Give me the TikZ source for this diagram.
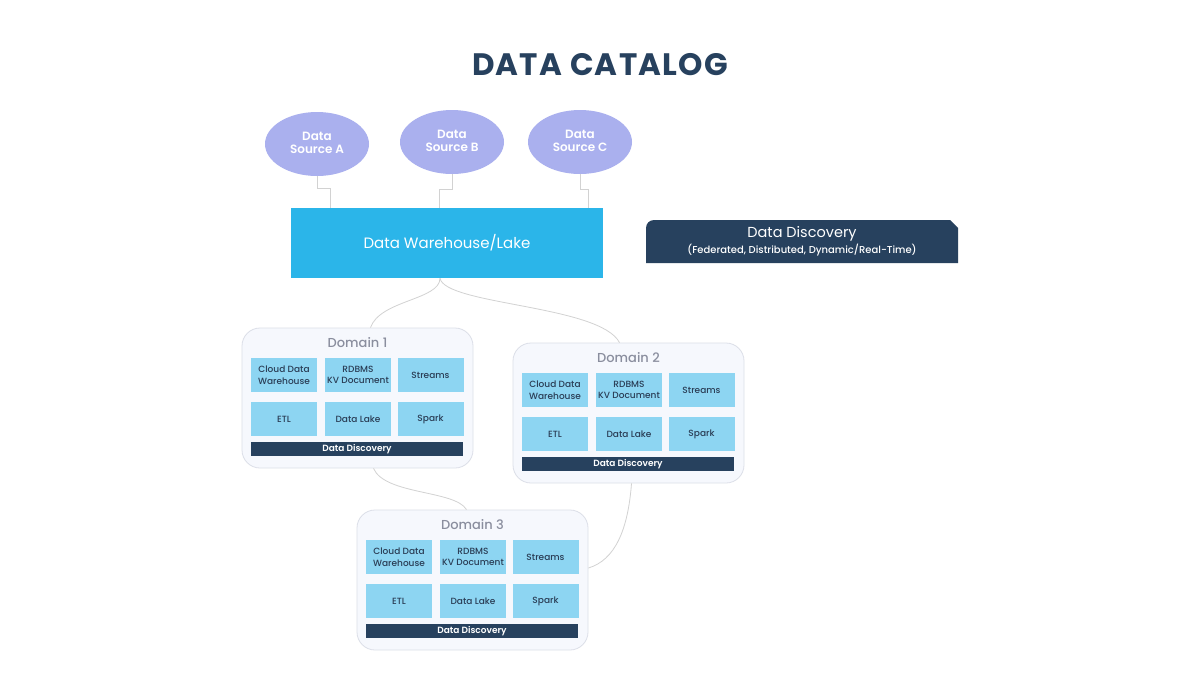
\documentclass[tikz,border=0pt]{standalone}
\usepackage{fontspec}
\setmainfont{Poppins}
\newfontfamily\pmed{Poppins Medium}
\newfontfamily\psemi{Poppins SemiBold}
\usetikzlibrary{shapes.geometric,calc}
\definecolor{navy}{HTML}{27415E}
\definecolor{lav}{HTML}{AAB0EE}
\definecolor{whblue}{HTML}{2BB5E9}
\definecolor{cellblue}{HTML}{8DD5F2}
\definecolor{domfill}{HTML}{F6F8FD}
\definecolor{domline}{HTML}{DCDFE8}
\definecolor{domtitle}{HTML}{8A8E9E}
\definecolor{conn}{HTML}{D2D2D2}
\definecolor{celltext}{HTML}{2A3D55}
\tikzset{
  src/.style={ellipse, fill=lav, minimum width=104pt, minimum height=64pt, inner sep=0pt,
    text=white, align=center, font=\fontsize{12}{13}\selectfont\psemi},
  whbox/.style={rectangle, fill=whblue, minimum width=312pt, minimum height=70pt,
    text=white, font=\fontsize{15}{18}\selectfont},
  dombox/.style={rectangle, rounded corners=18pt, fill=domfill, draw=domline, line width=0.8pt,
    minimum width=231pt, minimum height=140pt},
  domhead/.style={text=domtitle, font=\fontsize{13}{15}\selectfont\pmed, inner sep=0pt},
  cell/.style={rectangle, fill=cellblue, minimum width=66pt, minimum height=34pt, inner sep=0pt,
    text=celltext, align=center, font=\fontsize{9}{11.5}\selectfont\pmed},
  dbar/.style={rectangle, fill=navy, minimum width=212pt, minimum height=14pt, inner sep=0pt,
    text=white, font=\fontsize{9}{10}\selectfont\psemi},
  link/.style={draw=conn, line width=0.8pt},
}
\newcommand\mydomain[4]{%
  \node[dombox] (#1) at (#2+115.5,#3+70) {};
  \node[domhead] (#1t) at (#2+115.5,#3+15) {#4};
  \node[cell] (#1a) at (#2+42,#3+47) {Cloud Data\\Warehouse};
  \node[cell] (#1b) at (#2+116,#3+47) {RDBMS\\KV Document};
  \node[cell] (#1c) at (#2+188.5,#3+47) {Streams};
  \node[cell] (#1d) at (#2+42,#3+91) {ETL};
  \node[cell] (#1e) at (#2+116,#3+91) {Data Lake};
  \node[cell] (#1f) at (#2+188.5,#3+91) {Spark};
  \node[dbar] (#1g) at (#2+115,#3+121) {Data Discovery};
}
\newcommand\srctext[1]{\raisebox{3pt}{\begin{tabular}{@{}c@{}}Data\\Source #1\end{tabular}}}
\begin{document}
\begin{tikzpicture}[x=1pt,y=-1pt]
\useasboundingbox[fill=white] (0,0) rectangle (1200,675);
% title
\node[text=navy, font=\fontsize{31}{34}\selectfont\bfseries, inner sep=0pt] (title) at (600,65) {\addfontfeatures{LetterSpace=4}DATA CATALOG};
% sources
\node[src] (srcA) at (317,144) {\srctext{A}};
\node[src] (srcB) at (452,142) {\srctext{B}};
\node[src] (srcC) at (580,142) {\srctext{C}};
% warehouse
\node[whbox] (wh) at (447,243) {Data Warehouse/Lake};
% source links
\draw[link] (srcA.south) -- ++(0,12) -| ($(wh.north west)+(40,0)$);
\draw[link] (srcB.south) -- ++(0,15) -| ($(wh.north west)+(149,0)$);
\draw[link] (srcC.south) -- ++(0,15) -| ($(wh.north west)+(298,0)$);
% banner
\fill[navy] (646,263) -- (646,228) arc[start angle=180,end angle=90,radius=8pt] -- (950,220) -- (958,228) -- (958,263) -- cycle;
\node[text=white, font=\fontsize{14.5}{16}\selectfont, inner sep=0pt] (bannerT) at (802,234) {Data Discovery};
\node[text=white, font=\fontsize{10}{11}\selectfont\pmed, inner sep=0pt] (bannerS) at (802,250) {(Federated, Distributed, Dynamic/Real-Time)};
% domains
\mydomain{dA}{242}{328}{Domain 1}
\mydomain{dB}{513}{343}{Domain 2}
\mydomain{dC}{357}{510}{Domain 3}
% links between warehouse and domains
\coordinate (whb) at ($(wh.south)+(-7,0)$);
\draw[link] (whb) .. controls (440,300) and (380,300) .. ($(dA.north)+(13,0)$);
\draw[link] (whb) .. controls (445,305) and (600,305) .. ($(dB.north)+(-9,0)$);
\draw[link] ($(dA.south)+(16,0)$) .. controls (385,495) and (455,490) .. ($(dC.north)+(-6,0)$);
\draw[link] ($(dB.south)+(3,0)$) .. controls (628,530) and (615,560) .. ($(dC.east)+(0,-12)$);
\end{tikzpicture}
\end{document}
